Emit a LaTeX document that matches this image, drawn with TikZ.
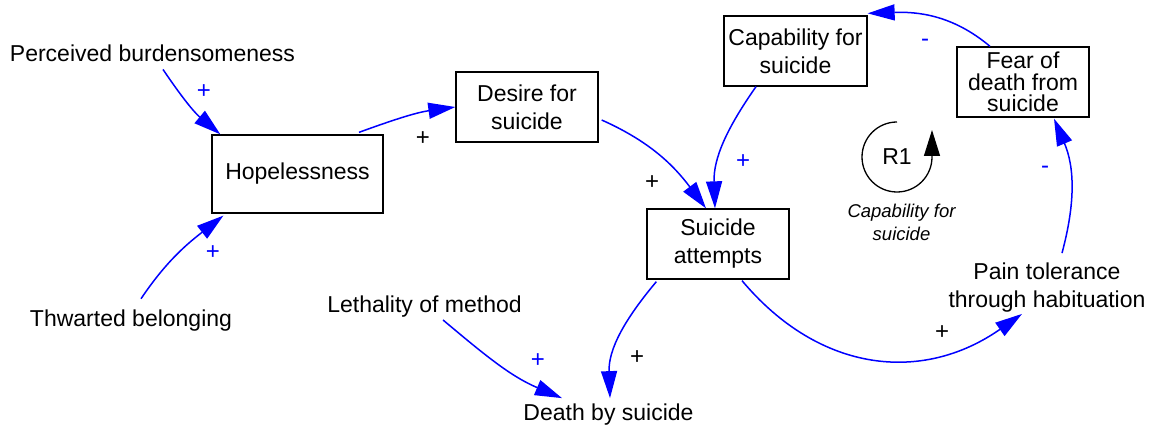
\documentclass[tikz,border=0pt]{standalone}
\usepackage{fontspec}
\setmainfont{Liberation Sans}
\usetikzlibrary{arrows.meta}
\definecolor{linkblue}{RGB}{0,0,255}
\begin{document}
\begin{tikzpicture}[x=1pt,y=1pt,
  box/.style={draw=black, line width=1.3pt, inner sep=0pt, align=center,
    font=\fontsize{23}{28}\selectfont},
  var/.style={inner sep=0pt, align=center, font=\fontsize{23}{28}\selectfont},
  link/.style={draw=linkblue, line width=1.5pt,
    -{Triangle[length=27pt,width=16pt]}},
  possign/.style={inner sep=0pt, text=linkblue, font=\fontsize{24}{24}\selectfont},
  blacksign/.style={inner sep=0pt, text=black, font=\fontsize{24}{24}\selectfont},
  looparrow/.style={draw=black, line width=1.3pt,
    -{Triangle[length=26pt,width=16pt]}}
]
\useasboundingbox (0,0) rectangle (1151,-427);

% stock-like variables in boxes
\node[box, minimum width=171pt, minimum height=78pt] (hop) at (297.5,-174) {Hopelessness};
\node[box, minimum width=142pt, minimum height=70pt] (des) at (527,-107) {Desire for\\suicide};
\node[box, minimum width=142pt, minimum height=70pt] (att) at (718,-244) {Suicide\\attempts};
\node[box, minimum width=143pt, minimum height=70pt] (cap) at (795.5,-51) {Capability for\\suicide};
\node[box, minimum width=132pt, minimum height=70pt,
      font=\fontsize{23}{21.5}\selectfont] (fear) at (1023,-82) {Fear of\\death from\\suicide};

% plain variables
\node[var, anchor=base] (pb) at (152.5,-62) {Perceived burdensomeness};
\node[var, anchor=base] (tb) at (131,-327) {Thwarted belonging};
\node[var, anchor=base] (leth) at (424.5,-313) {Lethality of method};
\node[var, anchor=base] (death) at (608.5,-420) {Death by suicide};
\node[var] (pain) at (1047,-288) {Pain tolerance\\through habituation};

% causal links
\draw[link] ([shift={(10.5,-7)}]pb.south) to[out=-56, in=140] ([xshift=9pt]hop.north west);
\draw[link] ([shift={(10,11.4)}]tb.north) to[out=56, in=-142] ([shift={(12,-2)}]hop.south west);
\draw[link] ([shift={(61.5,2)}]hop.north) to[out=20, in=188] (des.west);
\draw[link] ([shift={(3,-13)}]des.east) to[out=-24, in=127] ([xshift=-12pt]att.north);
\draw[link] ([xshift=-39.5pt]cap.south) to[out=-125, in=92] ([xshift=-3pt]att.north);
\draw[link] ([xshift=-33pt]fear.north) to[out=140, in=2] ([yshift=2pt]cap.north east);
\draw[link] ([shift={(15,10)}]pain.north) to[out=75, in=-67] ([shift={(31,-1)}]fear.south);
\draw[link] ([shift={(24,-1)}]att.south) to[out=-50, in=-145, looseness=1.1] ([shift={(-25,-1)}]pain.south);
\draw[link] ([shift={(10,-2)}]att.south west) to[out=-130, in=92] ([shift={(1.5,5)}]death.north);
\draw[link] ([shift={(18.5,-2)}]leth.south) to[out=-40, in=157] ([shift={(-46.5,5)}]death.north);

% polarity signs
\node[possign] (s1) at (204,-92) {+};
\node[possign] (s2) at (213,-253) {+};
\node[blacksign] (s3) at (423,-139) {+};
\node[blacksign] (s4) at (652,-183) {+};
\node[possign] (s5) at (743,-162) {+};
\node[possign] (s6) at (925,-43) {-};
\node[possign] (s7) at (1045,-170) {-};
\node[blacksign] (s8) at (942,-333) {+};
\node[blacksign] (s9) at (637,-358) {+};
\node[possign] (s10) at (538,-361) {+};

% reinforcing loop marker
\node[font=\fontsize{23}{23}\selectfont, inner sep=0pt] (r1) at (897,-157) {R1};
\draw[looparrow] ([yshift=35pt]r1.center) arc[start angle=90, end angle=360, radius=35pt] -- ++(0,27);
\node[font=\fontsize{18.5}{23}\selectfont\itshape, align=center, inner sep=0pt] (r1name) at (901.5,-222) {Capability for\\suicide};
\end{tikzpicture}
\end{document}
